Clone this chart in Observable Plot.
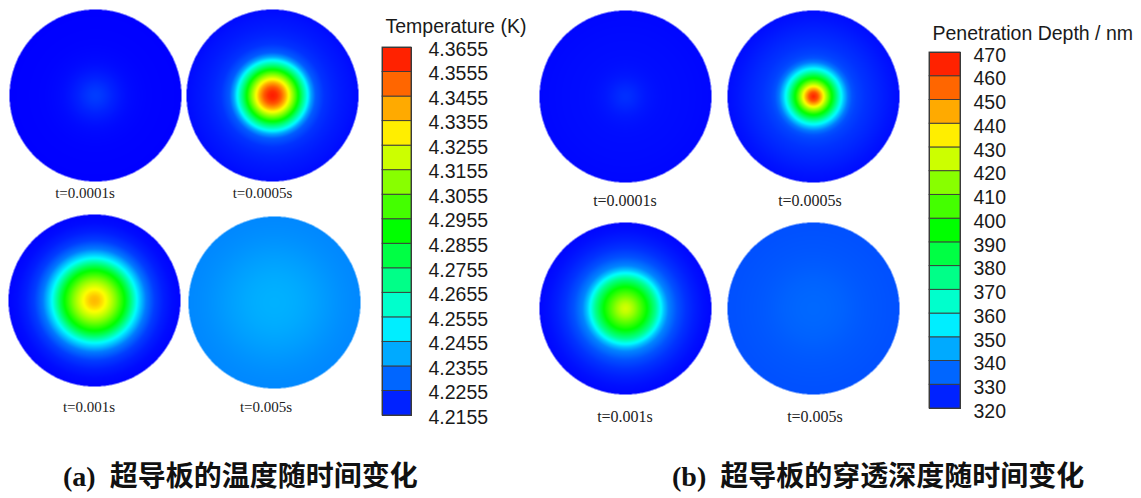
<!DOCTYPE html>
<html>
<head>
<meta charset="utf-8">
<script src="https://cdn.jsdelivr.net/npm/d3@7"></script>
<script src="https://cdn.jsdelivr.net/npm/@observablehq/plot@0.6"></script>
<style>
  body { margin: 0; background: #fff; }
  #fig { position: relative; width: 1141px; height: 498px; overflow: hidden; background: #fff; }
  #fig svg { position: absolute; background: transparent; overflow: visible; }
  .tlab { position: absolute; font-family: "Liberation Serif", "Times New Roman", serif; color: #222;
          white-space: nowrap; transform: translate(-50%, -50%); line-height: 1; }
  .cap { position: absolute; white-space: nowrap; font-size: 28px; line-height: 28px; color: #111; font-weight: bold; }
  .cap .en { font-family: "Liberation Serif", "Times New Roman", serif; }
  .cap .zh { font-family: "Noto Sans CJK SC", sans-serif; }
</style>
</head>
<body>
<div id="fig"></div>
<script>
// Radial sample positions, as a fraction of the plate radius
const radii = [0, 0.05, 0.1, 0.15, 0.2, 0.25, 0.3, 0.35, 0.4, 0.45, 0.5, 0.6, 0.7, 0.8, 0.9, 1.0];
const times = ["t=0.0001s", "t=0.0005s", "t=0.001s", "t=0.005s"];

// Plate temperature (K) along the radius at each time
const temp_t1 = [4.2245, 4.2240, 4.2230, 4.2218, 4.2205, 4.2195, 4.2185, 4.2177, 4.2171, 4.2167, 4.2164, 4.2160, 4.2158, 4.2157, 4.2156, 4.2155];
const temp_t2 = [4.3615, 4.3590, 4.3520, 4.3400, 4.3245, 4.3075, 4.2905, 4.2725, 4.2560, 4.2395, 4.2290, 4.2230, 4.2208, 4.2193, 4.2182, 4.2170];
const temp_t3 = [4.3385, 4.3365, 4.3315, 4.3250, 4.3175, 4.3090, 4.2995, 4.2905, 4.2785, 4.2650, 4.2515, 4.2335, 4.2245, 4.2200, 4.2173, 4.2160];
const temp_t4 = [4.2415, 4.2415, 4.2414, 4.2413, 4.2411, 4.2409, 4.2406, 4.2403, 4.2399, 4.2395, 4.2391, 4.2382, 4.2373, 4.2365, 4.2359, 4.2355];

// Penetration depth (nm) along the radius at each time
const depth_t1 = [327.0, 326.6, 325.8, 324.9, 324.0, 323.3, 322.8, 322.4, 322.1, 321.9, 321.8, 321.6, 321.5, 321.3, 321.1, 320.9];
const depth_t2 = [465.5, 458.0, 440.0, 419.0, 399.5, 383.0, 365.0, 350.0, 338.0, 332.0, 329.8, 327.5, 326.0, 324.5, 323.0, 321.8];
const depth_t3 = [426.5, 423.5, 417.5, 410.0, 402.5, 395.0, 384.5, 374.0, 360.5, 348.5, 339.5, 332.0, 327.5, 324.5, 322.3, 320.9];
const depth_t4 = [335.3, 335.3, 335.2, 335.1, 335.0, 334.8, 334.6, 334.4, 334.1, 333.8, 333.5, 333.0, 332.6, 332.3, 332.0, 331.8];

// Colour bar tick labels
const tempTicks = [4.2155, 4.2255, 4.2355, 4.2455, 4.2555, 4.2655, 4.2755, 4.2855, 4.2955, 4.3055, 4.3155, 4.3255, 4.3355, 4.3455, 4.3555, 4.3655];
const depthTicks = [320, 330, 340, 350, 360, 370, 380, 390, 400, 410, 420, 430, 440, 450, 460, 470];

const tempTitle = "Temperature (K)";
const depthTitle = "Penetration Depth / nm";
const captionA = ["(a)", "超导板的温度随时间变化"];
const captionB = ["(b)", "超导板的穿透深度随时间变化"];

// Rainbow colour map: blue → cyan → green → yellow → red
const rainbowStops = ["#0000ff", "#00ffff", "#00ff00", "#ffff00", "#ff0000"];
function rainbow(lo, hi) {
  return {type: "linear", domain: rainbowStops.map((_, i) => lo + (hi - lo) * i / 4), range: rainbowStops, interpolate: "rgb"};
}

// Page layout: plate centres and time-label anchors for each panel
const layout = {
  a: {profiles: [temp_t1, temp_t2, temp_t3, temp_t4],
      centers: [[94.5, 94.5], [271.5, 94.5], [94, 300], [274, 301.5]],
      labels: [[85, 193], [262.5, 193], [89, 407], [266, 407]], labelSize: 15,
      ticks: tempTicks, fmt: d => d.toFixed(4), title: tempTitle,
      legend: {left: 370, w: 170, h: 440, ml: 12, bw: 29, mt: 47, bottom: 415, pad: 17, dy: 2, tdy: -21}},
  b: {profiles: [depth_t1, depth_t2, depth_t3, depth_t4],
      centers: [[624.5, 96], [812.5, 96], [624.5, 307.5], [812.5, 308]],
      labels: [[625, 201], [810, 201], [625, 417], [815, 417]], labelSize: 16,
      ticks: depthTicks, fmt: d => String(d), title: depthTitle,
      legend: {left: 915, w: 226, h: 440, ml: 14, bw: 31, mt: 52, bottom: 408, pad: 13, dy: 3, tdy: -19}}
};

const fig = document.getElementById("fig");
const R = 86;           // plate radius in px
const half = 88;        // half-size of each plate's square plot

function plate(profile, lo, hi) {
  const prof = d3.scaleLinear(radii, profile).clamp(true);
  const ext = half / R;
  return Plot.plot({
    width: half * 2, height: half * 2, margin: 0,
    x: {domain: [-ext, ext], axis: null},
    y: {domain: [-ext, ext], axis: null},
    color: rainbow(lo, hi),
    marks: [
      Plot.raster({
        x1: -1, x2: 1, y1: -1, y2: 1,
        pixelSize: 0.5,
        imageRendering: "auto",
        fill: (x, y) => {
          const r = Math.hypot(x, y);
          return r <= 1 ? prof(r) : NaN;
        }
      })
    ]
  });
}

function colorbar(ticks, fmt, title, b) {
  // each band is coloured by its mid value on the same scale as the plates
  const bands = d3.pairs(ticks, (lo, hi) => ({lo, hi, mid: (lo + hi) / 2}));
  return Plot.plot({
    width: b.w, height: b.h,
    marginLeft: b.ml, marginRight: b.w - b.ml - b.bw,
    marginTop: b.mt, marginBottom: b.h - b.bottom,
    style: {fontFamily: "'Liberation Sans', Arial, sans-serif", fontSize: "19.5px", color: "#1a1a1a"},
    x: {domain: [0, 1], axis: null},
    y: {domain: [ticks[0], ticks[ticks.length - 1]], axis: null},
    color: rainbow(ticks[0], ticks[ticks.length - 1]),
    marks: [
      Plot.rect(bands, {x1: 0, x2: 1, y1: "lo", y2: "hi", fill: "mid", stroke: "#3a3a3a", strokeWidth: 0.9}),
      Plot.frame({stroke: "#3a3a3a", strokeWidth: 1}),
      Plot.axisY(ticks, {anchor: "right", tickSize: 0, tickPadding: b.pad, tickFormat: fmt,
                         fontSize: 19.5, dy: b.dy, color: "#1a1a1a"}),
      Plot.text([title], {frameAnchor: "top-left", textAnchor: "start", lineAnchor: "middle",
                          dx: 3, dy: b.tdy, fontSize: 19.5, fill: "#1a1a1a"})
    ]
  });
}

for (const key of ["a", "b"]) {
  const p = layout[key];
  const lo = p.ticks[0], hi = p.ticks[p.ticks.length - 1];
  p.profiles.forEach((profile, i) => {
    const svg = plate(profile, lo, hi);
    svg.style.left = (p.centers[i][0] - half) + "px";
    svg.style.top = (p.centers[i][1] - half) + "px";
    fig.appendChild(svg);
    const lab = document.createElement("div");
    lab.className = "tlab";
    lab.textContent = times[i];
    lab.style.left = p.labels[i][0] + "px";
    lab.style.top = p.labels[i][1] + "px";
    lab.style.fontSize = p.labelSize + "px";
    fig.appendChild(lab);
  });
  const bar = colorbar(p.ticks, p.fmt, p.title, p.legend);
  bar.style.left = p.legend.left + "px";
  bar.style.top = "0px";
  fig.appendChild(bar);
}

// Panel captions
function caption(parts, left) {
  const div = document.createElement("div");
  div.className = "cap";
  div.style.left = left + "px";
  div.style.top = "460px";
  const en = document.createElement("span");
  en.className = "en";
  en.textContent = parts[0];
  const zh = document.createElement("span");
  zh.className = "zh";
  zh.textContent = parts[1];
  div.append(en, "\u00a0\u00a0", zh);
  fig.appendChild(div);
}
caption(captionA, 63);
caption(captionB, 672);
</script>
</body>
</html>
